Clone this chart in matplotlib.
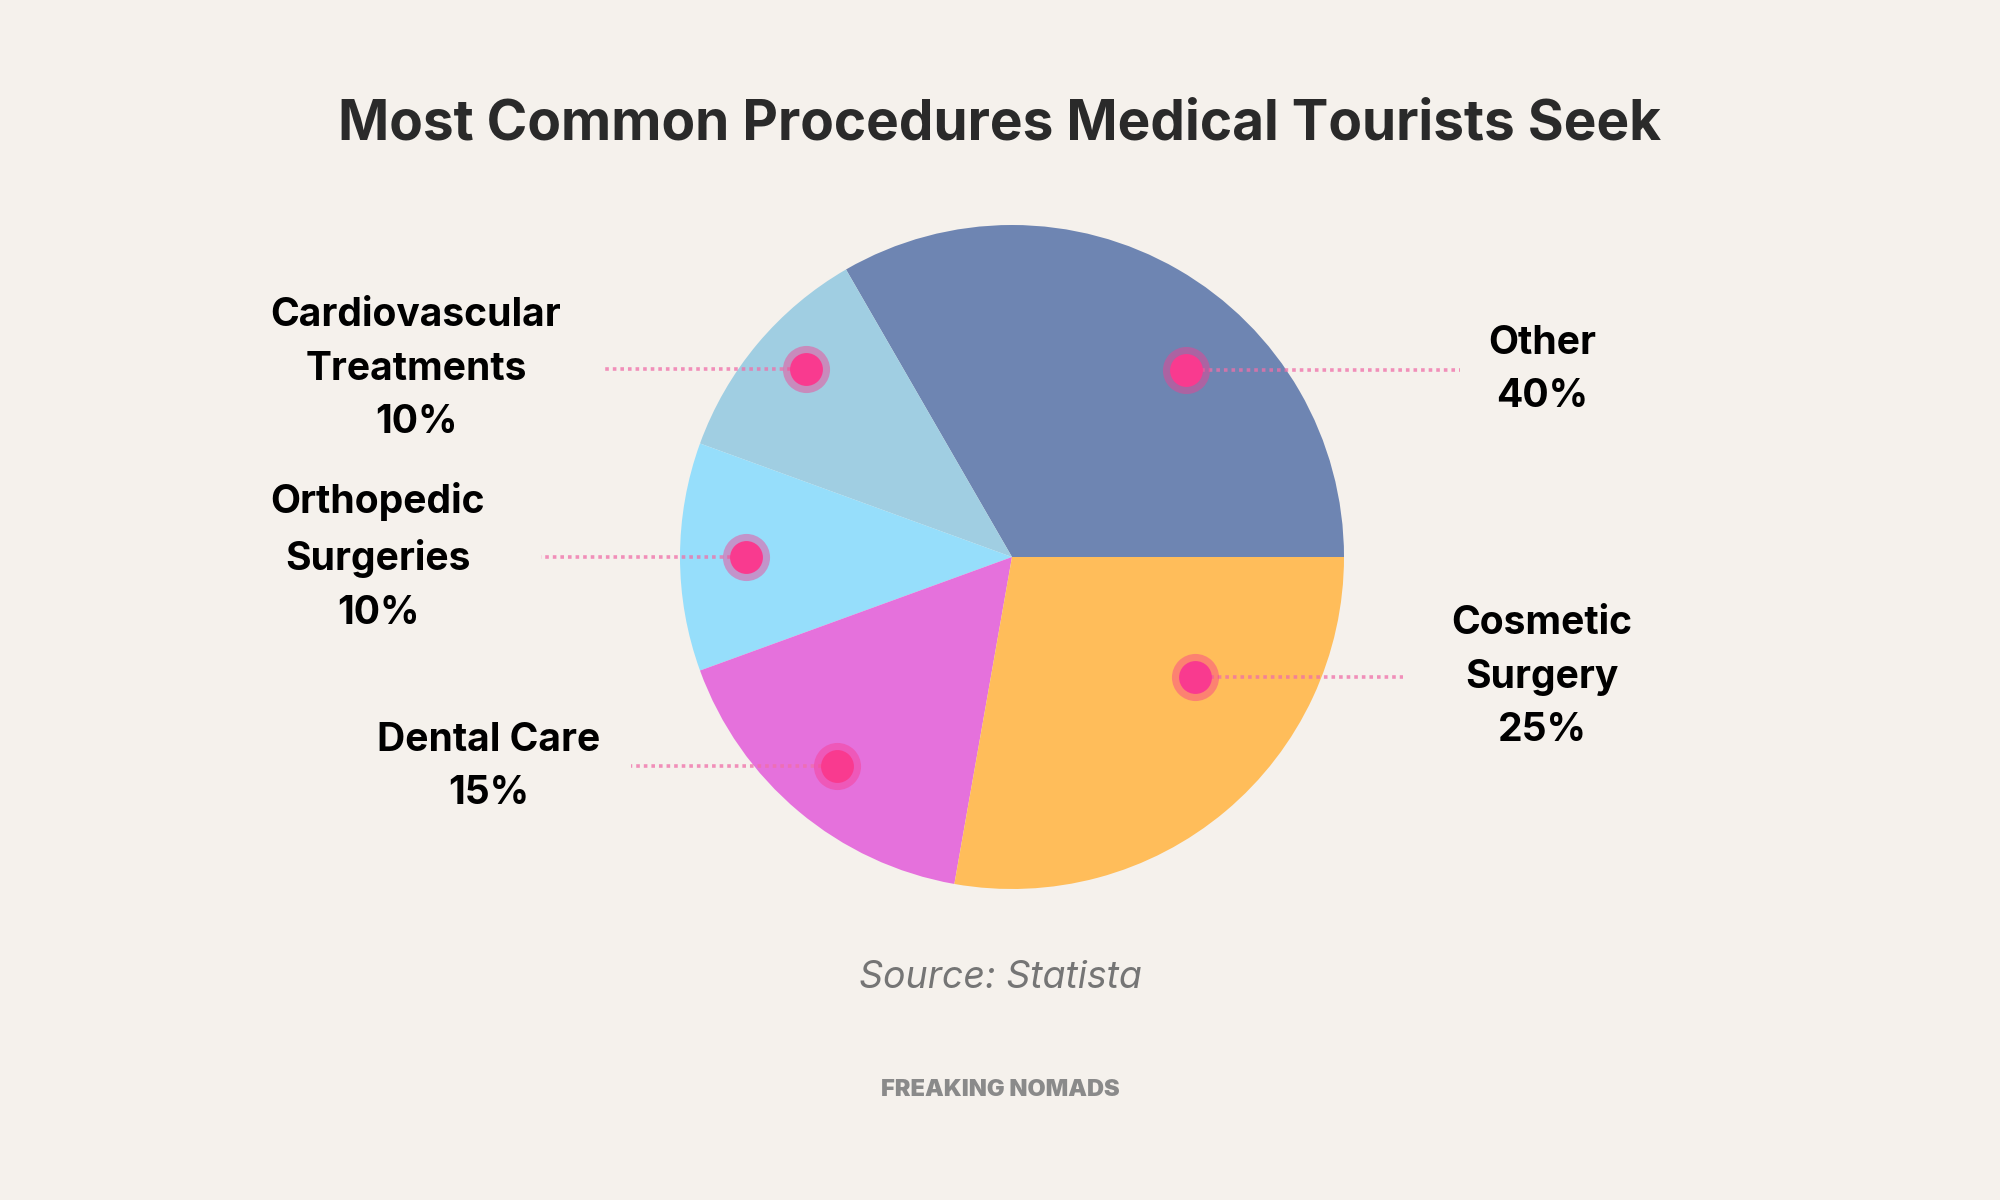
import matplotlib.pyplot as plt
import numpy as np

# slice sizes as drawn in the picture, and the printed labels
categories = ['Other', 'Cardiovascular\nTreatments', 'Orthopedic\nSurgeries', 'Dental Care', 'Cosmetic\nSurgery']
slice_sizes = [30, 10, 10, 15, 25]
pct_labels = ['40%', '10%', '10%', '15%', '25%']
colors = ['#6E85B2', '#A0CEE2', '#96DEFB', '#E571DC', '#FFBD5A']

BG = '#F5F1EC'
PINK = '#F93A8F'
CX, CY, R = 1012, 643, 332

# marker placement (angle deg, fraction of radius), label anchor, line end x
marker_pos = [(47, 0.77), (137.5, 0.84), (180, 0.80), (230, 0.82), (326.7, 0.66)]
label_xy = [(1542, 370), (416, 369), (378, 557), (489, 767), (1542, 677)]
line_end_x = [1460, 602, 541, 631, 1403]

plt.rcParams['font.family'] = ['Inter', 'DejaVu Sans']

fig = plt.figure(figsize=(20, 12), dpi=100, facecolor=BG)
ax = fig.add_axes([0, 0, 1, 1])
ax.set_facecolor(BG)

ax.pie(slice_sizes, colors=colors, startangle=0, counterclock=True,
       center=(CX, CY), radius=R, frame=True,
       wedgeprops=dict(linewidth=0, antialiased=True))
ax.set_xlim(0, 2000)
ax.set_ylim(0, 1200)
ax.axis('off')

for i in range(len(categories)):
    ang, frac = marker_pos[i]
    mx = CX + R * frac * np.cos(np.radians(ang))
    my = CY + R * frac * np.sin(np.radians(ang))
    # dotted leader line, halo and dot
    ax.plot([mx, line_end_x[i]], [my, my], color='#F06FA8', alpha=0.75, lw=2.6,
            linestyle=(0, (1, 1.1)), solid_capstyle='butt', zorder=3)
    ax.scatter([mx], [my], s=1150, color=PINK, alpha=0.45, linewidths=0, zorder=4)
    ax.scatter([mx], [my], s=560, color=PINK, linewidths=0, zorder=5)

    lx, ly = label_xy[i]
    txt = categories[i] + '\n' + pct_labels[i]
    ax.text(lx, 1200 - ly, txt, ha='center', va='center', fontsize=28.1,
            fontweight='bold', color='#000000', linespacing=1.57, zorder=6)

ax.text(1000, 1200 - 124, 'Most Common Procedures Medical Tourists Seek', ha='center',
        va='center', fontsize=39.6, fontweight='bold', color='#2A2A2A')
ax.text(1000, 1200 - 978, 'Source: Statista', ha='center', va='center', fontsize=27,
        style='italic', color='#757575')
ax.text(1000, 1200 - 1090, 'FREAKING NOMADS', ha='center', va='center', fontsize=17,
        fontweight='black', color='#8A8A8A')

fig.savefig('out.png', dpi=100, facecolor=BG)
